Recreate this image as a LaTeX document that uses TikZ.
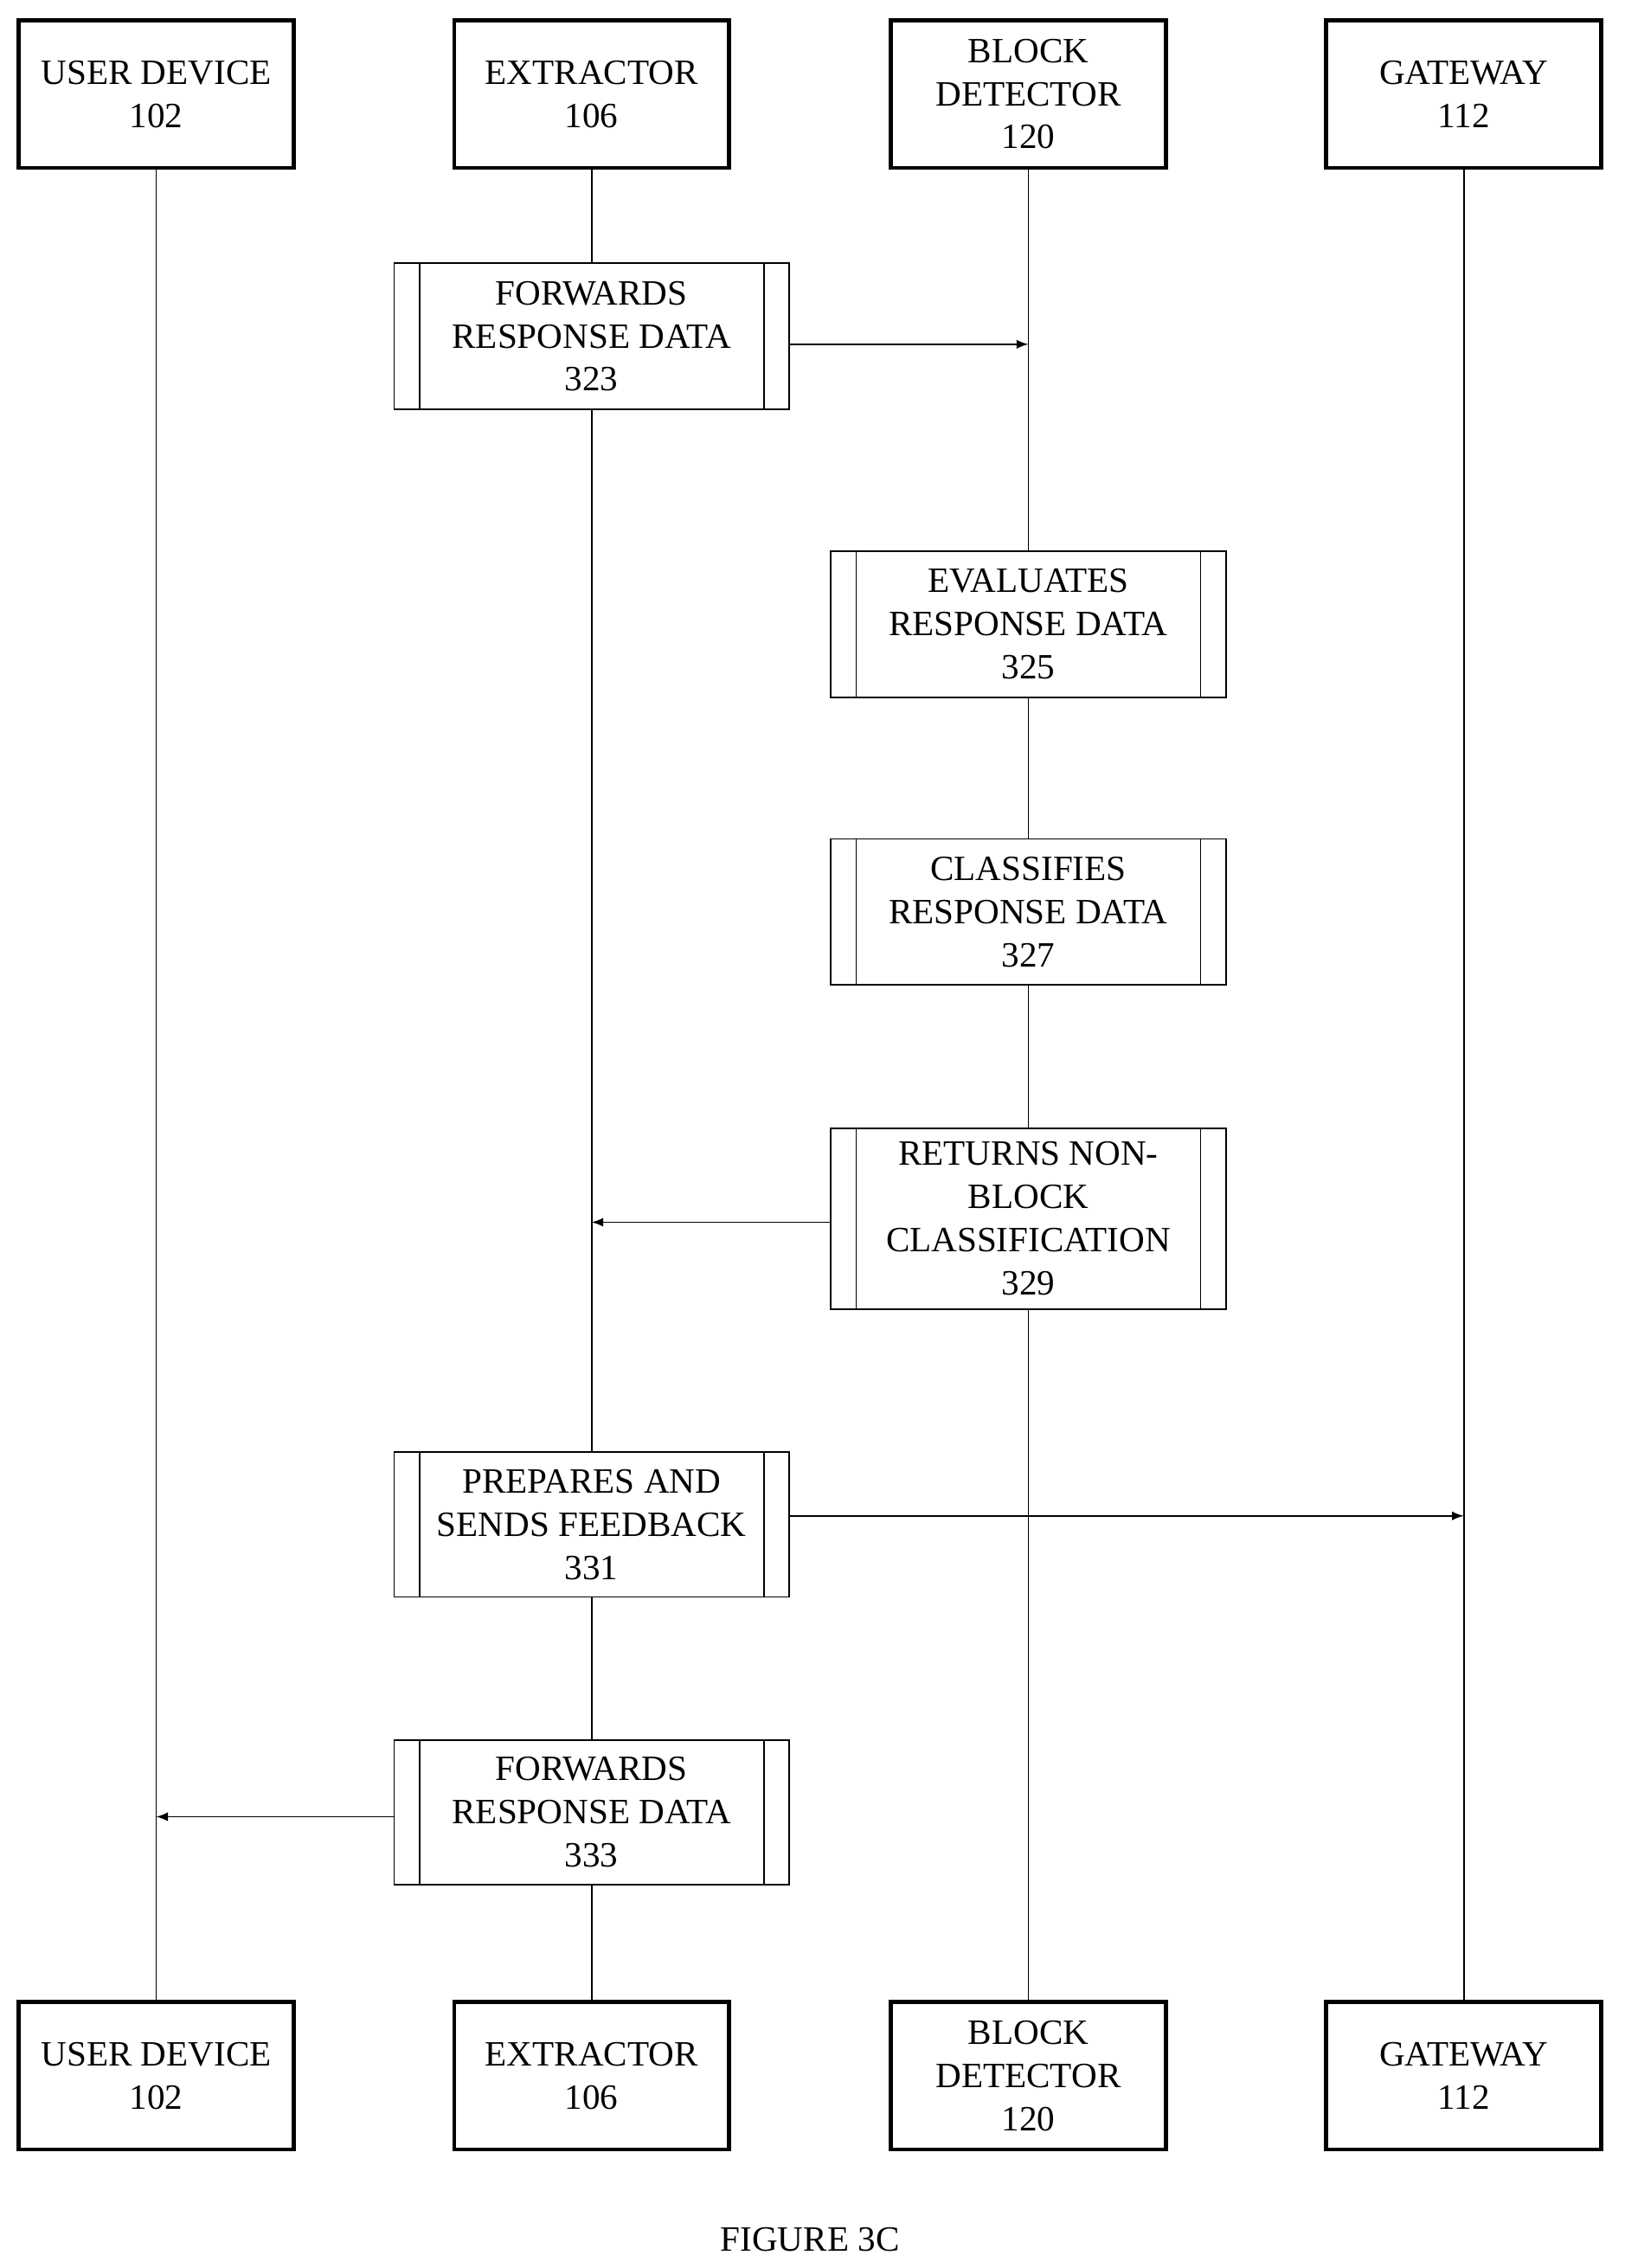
\documentclass[tikz,border=0pt]{standalone}
\usepackage{fontspec}
\setmainfont{Liberation Serif}
\begin{document}
\begin{tikzpicture}[x=0.02cm,y=-0.02cm,
 actor/.style={draw,line width=1.6pt,minimum width=190*0.02cm,minimum height=102*0.02cm,align=center,font=\fontsize{14}{17}\selectfont,inner sep=0pt},
 proc/.style={draw,fill=white,line width=0.6pt,minimum width=273*0.02cm,align=center,font=\fontsize{14}{17}\selectfont,inner sep=0pt},
 life/.style={line width=0.6pt},
 msg/.style={line width=0.6pt,-latex}]
\useasboundingbox (0,0) rectangle (1123,1568);
\foreach \n/\x/\t in {u/108/{USER DEVICE\\102},e/409/{EXTRACTOR\\106},b/711/{BLOCK\\DETECTOR\\120},g/1012/{GATEWAY\\112}}{
 \node[actor] (\n t) at (\x,65) {\t};
 \node[actor] (\n b) at (\x,1435) {\t};
 \draw[life] (\n t.south) -- (\n b.north);
}
\newcommand\pbox[5]{% name, x, ytop, ybot, text
 \node[proc,minimum height={(#4-#3)*0.02cm}] (#1) at (#2,{(#3+#4)/2}) {#5};
 \draw[line width=0.6pt] ([xshift=18*0.02cm]#1.north west) -- ([xshift=18*0.02cm]#1.south west)
   ([xshift=-18*0.02cm]#1.north east) -- ([xshift=-18*0.02cm]#1.south east);}
\pbox{p323}{409}{182}{283}{FORWARDS\\RESPONSE DATA\\323}
\pbox{p325}{711}{381}{482}{EVALUATES\\RESPONSE DATA\\325}
\pbox{p327}{711}{580}{681}{CLASSIFIES\\RESPONSE DATA\\327}
\pbox{p329}{711}{780}{905}{RETURNS NON-\\BLOCK\\CLASSIFICATION\\329}
\pbox{p331}{409}{1004}{1104}{PREPARES AND\\SENDS FEEDBACK\\331}
\pbox{p333}{409}{1203}{1303}{FORWARDS\\RESPONSE DATA\\333}
\coordinate (a1) at (711,238); \draw[msg] (p323.east|-a1) -- (a1);
\coordinate (a2) at (409,845); \draw[msg] (p329.west|-a2) -- (a2);
\coordinate (a3) at (1012,1048); \draw[msg] (p331.east|-a3) -- (a3);
\coordinate (a4) at (108,1256); \draw[msg] (p333.west|-a4) -- (a4);
\node[font=\fontsize{14}{17}\selectfont] (cap) at (560,1548) {FIGURE 3C};
\end{tikzpicture}
\end{document}
